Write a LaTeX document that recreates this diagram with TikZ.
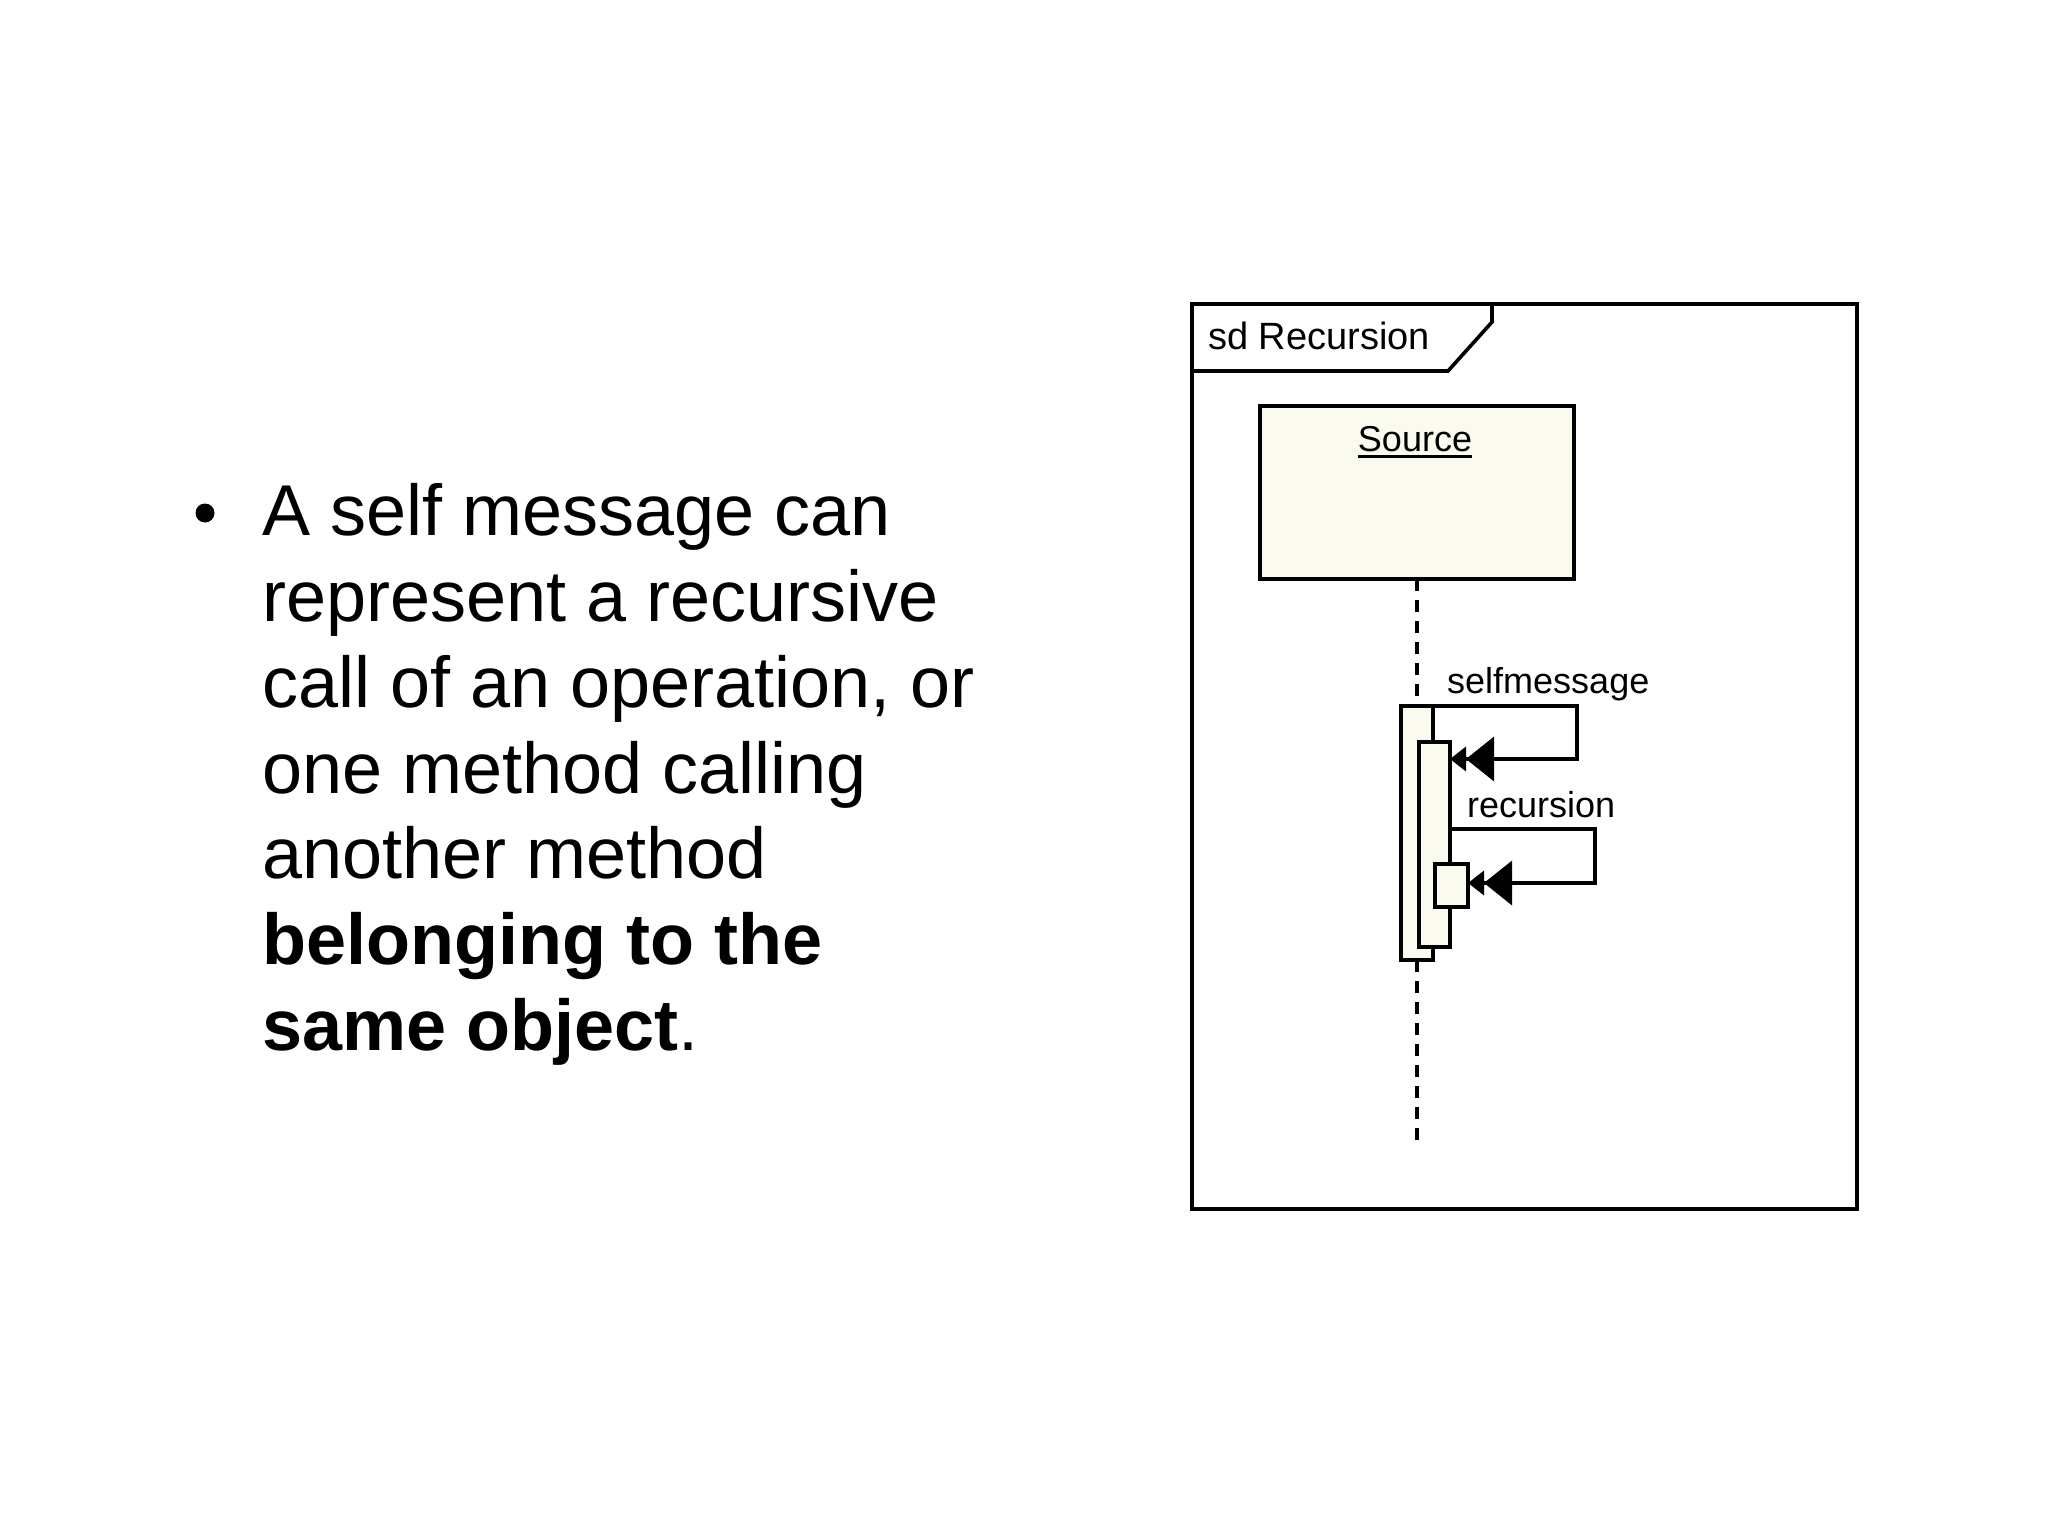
\documentclass[tikz,border=0pt]{standalone}
\usepackage{fontspec}
\setmainfont{Liberation Sans}
\newfontfamily\umlfont{Liberation Sans}
\usetikzlibrary{arrows.meta}
\definecolor{cream}{RGB}{251,250,238}
\begin{document}
\begin{tikzpicture}[x=1pt,y=-1pt,
  body/.style={anchor=base west, inner sep=0, font=\fontsize{72}{86}\selectfont},
  boldbody/.style={anchor=base west, inner sep=0, font=\fontsize{72}{86}\selectfont\bfseries},
  umlline/.style={line width=3.6pt, black},
  box/.style={draw, line width=3.6pt, fill=cream, inner sep=0, outer sep=0, anchor=north west},
  umltext/.style={font=\umlfont\fontsize{36}{40}\selectfont, inner sep=0, anchor=base west},
  lifeline/.style={line width=3.4pt, dash pattern=on 12pt off 9pt},
  msgarrow/.style={umlline, -{Triangle[length=28pt 0 0,width=44pt 0 0] Triangle[length=16pt 0 0,width=24pt 0 0]}},
]
\useasboundingbox (0,0) rectangle (2048,1536);
\fill[white] (0,0) rectangle (2048,1536);

% bullet text
\node[circle, fill=black, inner sep=0, minimum size=19pt] (bullet) at (205,513) {};
\node[body] (l1) at (262,535) {A self message can};
\node[body] (l2) at (262,621) {represent a recursive};
\node[body] (l3) at (262,707) {call of an operation, or};
\node[body] (l4) at (262,793) {one method calling};
\node[body] (l5) at (262,878) {another method};
\node[boldbody] (l6) at (262,964) {belonging to the};
\node[body] (l7) at (262,1050) {\textbf{same object}.};

% frame
\node[draw, line width=4pt, inner sep=0, outer sep=0, anchor=north west,
      minimum width=665pt, minimum height=905pt] (frame) at (1192,304) {};
\draw[umlline] (1192,371) -- (1448,371) -- (1492,322) -- (1492,304);
\node[umltext, font=\umlfont\fontsize{38}{40}\selectfont] (sdlabel) at (1208,349) {sd Recursion};

% lifeline head
\node[box, minimum width=314pt, minimum height=173pt] (source) at (1260,406) {};
\node[umltext, anchor=base] (srclabel) at (1415,451) {Source};
\draw[line width=3pt] ([yshift=-5pt]srclabel.base west) -- ([yshift=-5pt]srclabel.base east);

% activations
\node[box, minimum width=32pt, minimum height=254pt] (outer) at (1401,706) {};
\node[box, minimum width=31pt, minimum height=205pt] (inner) at (1419,742) {};
\node[box, minimum width=33pt, minimum height=43pt] (small) at (1435,864) {};

% lifelines
\coordinate (lifeend) at (1417,1142);
\draw[lifeline] (source.south) -- ([yshift=9pt]outer.north);
\draw[lifeline] (outer.south) -- (lifeend);

% messages
\draw[msgarrow] (outer.north east) -- (1577,706) -- (1577,759) -- (inner.east |- 0,759);
\node[umltext] (selflabel) at (1447,693) {selfmessage};
\draw[msgarrow] (inner.east |- 0,829) -- (1595,829) -- (1595,883) -- (small.east |- 0,883);
\node[umltext] (reclabel) at (1467,817) {recursion};
\end{tikzpicture}
\end{document}
